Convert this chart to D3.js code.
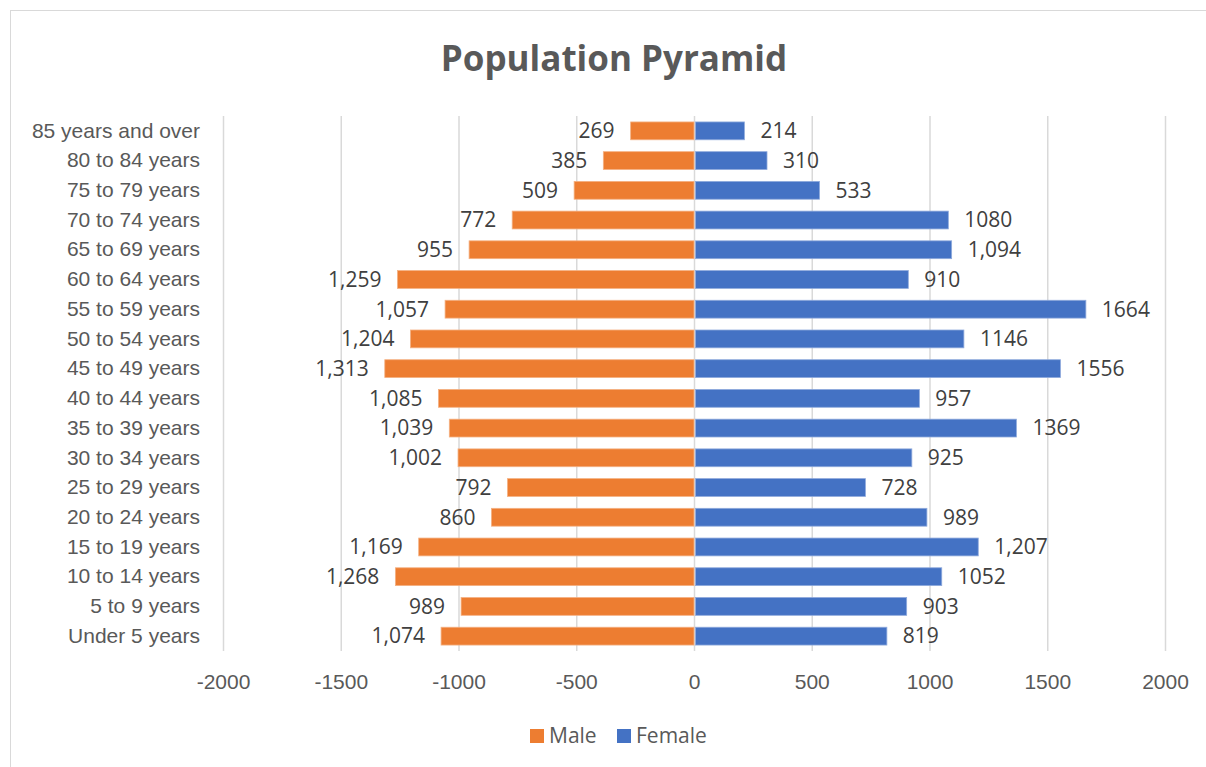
<!DOCTYPE html>
<html lang="en">
<head>
    <meta charset="UTF-8">
    <title>Population Pyramid</title>
    <script src="https://cdn.jsdelivr.net/npm/d3@7"></script>
    <style>
        body { margin: 0; background: #fff; }
        svg { font-family: "Open Sans", "Noto Sans", sans-serif; }
        .grid line { stroke: #d9d9d9; stroke-width: 1.5; }
        .grid path { display: none; }
        .axis path, .axis line { display: none; }
        .axis text { font-size: 21px; fill: #595959; }
        .lbl { font-size: 21px; fill: #404040; }
    </style>
</head>
<body>
<script>
    // data
    const ages = ['Under 5 years', '5 to 9 years', '10 to 14 years', '15 to 19 years', '20 to 24 years',
        '25 to 29 years', '30 to 34 years', '35 to 39 years', '40 to 44 years', '45 to 49 years',
        '50 to 54 years', '55 to 59 years', '60 to 64 years', '65 to 69 years', '70 to 74 years',
        '75 to 79 years', '80 to 84 years', '85 years and over']
    const male = [1074, 989, 1268, 1169, 860, 792, 1002, 1039, 1085, 1313, 1204, 1057, 1259, 955, 772, 509, 385, 269]
    const female = [819, 903, 1052, 1207, 989, 728, 925, 1369, 957, 1556, 1146, 1664, 910, 1094, 1080, 533, 310, 214]
    // female labels are not all formatted the same way in the source
    const femaleLabels = ['819', '903', '1052', '1,207', '989', '728', '925', '1369', '957', '1556',
        '1146', '1664', '910', '1,094', '1080', '533', '310', '214']
    const ticks = [-2000, -1500, -1000, -500, 0, 500, 1000, 1500, 2000]

    const width = 1206
    const height = 767
    const svg = d3.select('body').append('svg').attr('width', width).attr('height', height)

    // chart border
    svg.append('rect')
        .attr('x', 10.5).attr('y', 10.5)
        .attr('width', width + 10).attr('height', height + 10)
        .attr('fill', 'none').attr('stroke', '#d9d9d9')

    const x = d3.scaleLinear().domain([-2000, 2000]).range([223, 1165])
    const y = d3.scaleBand().domain(ages.slice().reverse()).range([116, 651]).paddingInner(0.4).paddingOuter(0.2)

    svg.append('text')
        .attr('x', 614).attr('y', 71)
        .attr('text-anchor', 'middle')
        .attr('font-size', 35).attr('font-weight', 'bold').attr('fill', '#595959')
        .text('Population Pyramid')

    svg.append('g')
        .attr('class', 'grid')
        .attr('transform', 'translate(0,651)')
        .call(d3.axisBottom(x).tickValues(ticks).tickSize(-535).tickFormat(''))

    svg.append('g')
        .attr('class', 'axis')
        .attr('transform', 'translate(0,651)')
        .call(d3.axisBottom(x).tickValues(ticks).tickSize(0).tickPadding(23).tickFormat(d => String(d)))

    svg.append('g')
        .attr('class', 'axis')
        .attr('transform', 'translate(200,0)')
        .call(d3.axisLeft(y).tickSize(0).tickPadding(0))

    const fmt = d3.format(',')

    svg.selectAll('rect.male')
        .data(male)
        .enter()
        .append('rect')
        .attr('class', 'male')
        .attr('x', d => x(-d))
        .attr('y', (d, i) => y(ages[i]))
        .attr('width', d => x(0) - x(-d))
        .attr('height', y.bandwidth())
        .attr('fill', '#ed7d31')
        .attr('stroke', '#f4b183').attr('stroke-width', 0.8)

    svg.selectAll('rect.female')
        .data(female)
        .enter()
        .append('rect')
        .attr('class', 'female')
        .attr('x', x(0) + 1.5)
        .attr('y', (d, i) => y(ages[i]))
        .attr('width', d => x(d) - x(0) - 1.5)
        .attr('height', y.bandwidth())
        .attr('fill', '#4472c4')
        .attr('stroke', '#8faadc').attr('stroke-width', 0.8)

    svg.selectAll('text.ml')
        .data(male)
        .enter()
        .append('text')
        .attr('class', 'lbl')
        .attr('x', d => x(-d) - 16)
        .attr('y', (d, i) => y(ages[i]) + y.bandwidth() / 2)
        .attr('dy', '0.35em')
        .attr('text-anchor', 'end')
        .text(d => fmt(d))

    svg.selectAll('text.fl')
        .data(female)
        .enter()
        .append('text')
        .attr('class', 'lbl')
        .attr('x', d => x(d) + 16)
        .attr('y', (d, i) => y(ages[i]) + y.bandwidth() / 2)
        .attr('dy', '0.35em')
        .text((d, i) => femaleLabels[i])

    // legend
    const legend = [['Male', '#ed7d31', 530], ['Female', '#4472c4', 617]]
    const lg = svg.selectAll('g.lg').data(legend).enter().append('g')
    lg.append('rect')
        .attr('x', d => d[2]).attr('y', 729)
        .attr('width', 14).attr('height', 14)
        .attr('fill', d => d[1])
    lg.append('text')
        .attr('x', d => d[2] + 19).attr('y', 736)
        .attr('dy', '0.35em')
        .attr('font-size', 21).attr('fill', '#595959')
        .text(d => d[0])
</script>
</body>
</html>
